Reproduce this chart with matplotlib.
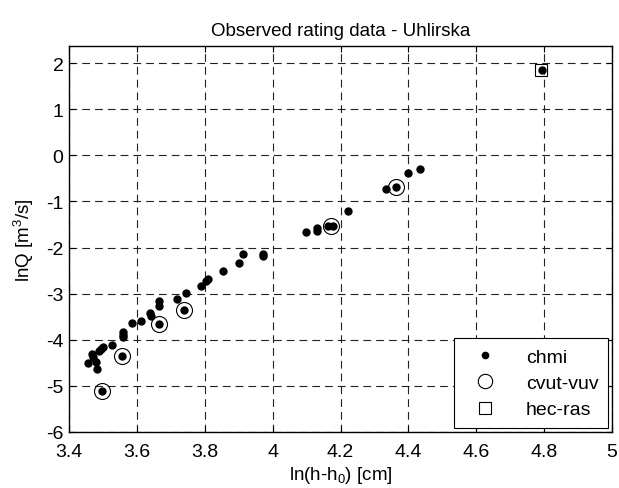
import matplotlib
matplotlib.use("Agg")
import matplotlib.pyplot as plt

plt.rcParams["font.family"] = ["Liberation Sans", "DejaVu Sans"]
plt.rcParams["mathtext.fontset"] = "custom"
plt.rcParams["mathtext.rm"] = "Liberation Sans"
plt.rcParams["axes.unicode_minus"] = False

# observed stage/discharge pairs (log space)
chmi_x = [3.457, 3.467, 3.472, 3.480, 3.482, 3.489, 3.493, 3.498, 3.499, 3.527,
          3.557, 3.558, 3.558, 3.560, 3.586, 3.612, 3.639, 3.641, 3.665, 3.666,
          3.666, 3.717, 3.740, 3.745, 3.788, 3.804, 3.810, 3.853, 3.902, 3.912,
          3.971, 3.971, 4.098, 4.130, 4.130, 4.164, 4.179, 4.221, 4.334, 4.365,
          4.398, 4.434, 4.793]
chmi_y = [-4.503, -4.308, -4.380, -4.475, -4.633, -4.249, -4.200, -5.117, -4.150, -4.106,
          -4.345, -3.837, -3.896, -3.946, -3.642, -3.592, -3.419, -3.490, -3.664, -3.152,
          -3.260, -3.115, -3.347, -2.980, -2.826, -2.720, -2.680, -2.508, -2.340, -2.139,
          -2.139, -2.176, -1.668, -1.581, -1.633, -1.525, -1.525, -1.200, -0.729, -0.692,
          -0.388, -0.295, 1.853]

cvut_x = [3.498, 3.557, 3.665, 3.740, 4.172, 4.365]
cvut_y = [-5.117, -4.345, -3.664, -3.347, -1.525, -0.692]

hec_x = [4.790]
hec_y = [1.860]

x_ticks = [3.4, 3.6, 3.8, 4.0, 4.2, 4.4, 4.6, 4.8, 5.0]
x_tick_labels = ["3.4", "3.6", "3.8", "4", "4.2", "4.4", "4.6", "4.8", "5"]
y_ticks = [-6, -5, -4, -3, -2, -1, 0, 1, 2]

fig = plt.figure(figsize=(6.19, 4.89), dpi=100)
ax = fig.add_axes([69 / 619, 56 / 489, 543 / 619, 386 / 489])

ax.plot(chmi_x, chmi_y, linestyle="none", marker="o", markersize=5,
        color="k", label="chmi")
ax.plot(cvut_x, cvut_y, linestyle="none", marker="o", markersize=11.5,
        markerfacecolor="none", markeredgecolor="k", markeredgewidth=0.8,
        label="cvut-vuv")
ax.plot(hec_x, hec_y, linestyle="none", marker="s", markersize=9,
        markerfacecolor="none", markeredgecolor="k", markeredgewidth=0.8,
        label="hec-ras")

ax.set_xlim(3.4, 5.0)
ax.set_ylim(-6, 2.37)
ax.set_xticks(x_ticks)
ax.set_xticklabels(x_tick_labels)
ax.set_yticks(y_ticks)
ax.tick_params(direction="in", top=True, right=True, length=4, width=0.8,
               labelsize=14)
ax.tick_params(axis="x", pad=8)
ax.tick_params(axis="y", pad=4)
for spine in ax.spines.values():
    spine.set_linewidth(1.0)

ax.grid(True, color="#222222", linewidth=0.8, linestyle=(0, (7, 4.5)))
ax.set_axisbelow(True)

ax.set_title("Observed rating data - Uhlirska", fontsize=13.5, pad=8)
ax.set_xlabel("ln(h-h$_0$) [cm]", fontsize=13.5, labelpad=3)
ax.set_ylabel("lnQ [m$^3$/s]", fontsize=13.5, labelpad=7)

leg = ax.legend(loc="lower right", fontsize=14, fancybox=False, framealpha=1,
                edgecolor="k", borderaxespad=0.2, handlelength=2.2,
                handletextpad=1.0, labelspacing=0.45, borderpad=0.5,
                markerscale=0.9)
leg.get_frame().set_linewidth(0.8)

fig.savefig("out.png", dpi=100)
